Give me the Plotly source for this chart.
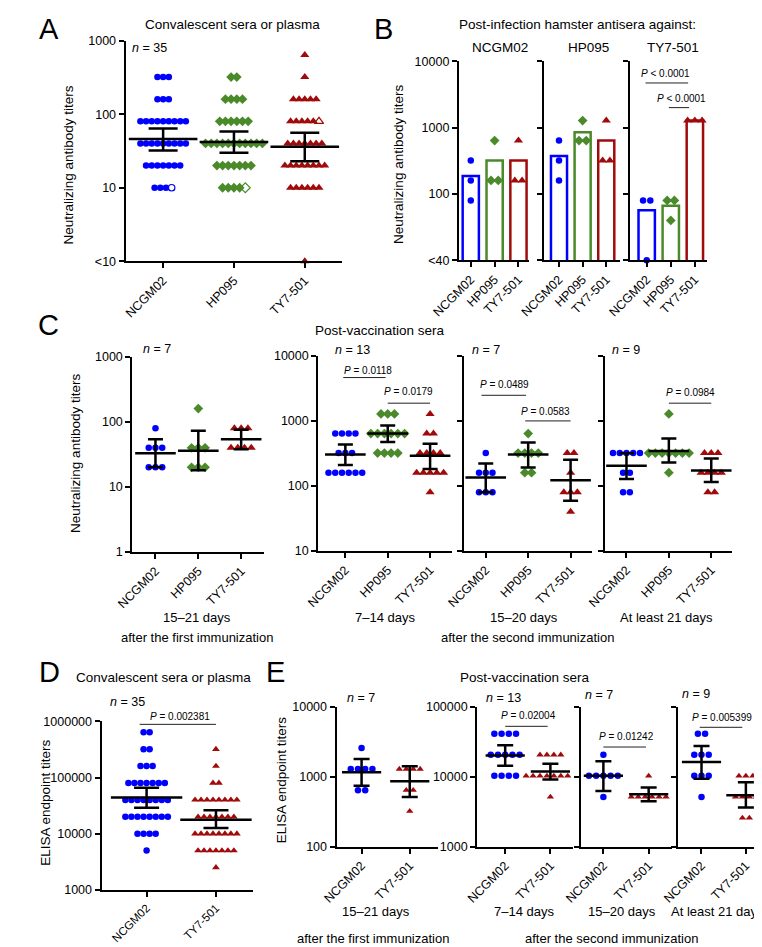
import numpy as np
import plotly.graph_objects as go

FONT = "Liberation Sans, Arial, Helvetica, sans-serif"
W, H = 762, 947

BLUE = "#0000FF"
GREEN = "#4A8A2A"
RED = "#A00A0A"
COLORS = [BLUE, GREEN, RED]
SYMBOLS = ["circle", "diamond", "triangle-up"]
SIZES = [6.5, 7.5, 8]

TICK_SIZE = 12.5
TITLE_SIZE = 13.5
YTITLE_SIZE = 13.5
N_SIZE = 12.5
P_SIZE = 10
BOTTOM_SIZE = 13

cats3 = ["NCGM02", "HP095", "TY7-501"]
cats2 = ["NCGM02", "TY7-501"]

# ---------------- Panel A : convalescent sera, neutralizing titers ----------------
a_ncgm02 = [320, 320, 320, 160, 160, 160, 80, 80, 80, 80, 80, 80, 80, 80, 80,
            40, 40, 40, 40, 40, 40, 40, 40, 40, 20, 20, 20, 20, 20, 20, 20, 10, 10, 10]
a_hp095 = [320, 320, 160, 160, 160, 160, 80, 80, 80, 80, 80, 80,
           40, 40, 40, 40, 40, 40, 40, 40, 40, 40, 40, 20, 20, 20, 20, 20, 20, 20, 10, 10, 10, 10]
a_ty7 = [640, 320, 160, 160, 160, 160, 160, 80, 80, 80, 80, 80,
         40, 40, 40, 40, 40, 40, 40, 20, 20, 20, 20, 20, 20, 20, 20, 10, 10, 10, 10, 10, 10, 1]
a_open = [10, 10, 80]
a_gmt = [46, 42, 36]
a_lo = [32, 30, 23]
a_hi = [64, 58, 56]

# ---------------- Panel B : hamster antisera (columns = virus tested) ----------------
b_against_ncgm02 = [[320, 160, 80], [640, 160, 160], [640, 160, 160]]
b_against_hp095 = [[640, 320, 160], [1280, 640, 640], [1280, 320, 320]]
b_against_ty7 = [[80, 80, 10], [80, 80, 40], [1280, 1280, 1280]]
b_virus = ["NCGM02", "HP095", "TY7-501"]

# ---------------- Panel C : post-vaccination neutralizing titers ----------------
c1_ncgm02 = [80, 40, 40, 40, 20, 20, 20]
c1_hp095 = [160, 40, 40, 40, 20, 20, 20]
c1_ty7 = [80, 80, 80, 40, 40, 40, 40]
c1_gmt, c1_lo, c1_hi = [33, 36, 54], [20, 18, 38], [54, 73, 76]

c2_ncgm02 = [640, 640, 640, 640, 320, 320, 320, 160, 160, 160, 160, 160, 160]
c2_hp095 = [1280, 1280, 1280, 640, 640, 640, 640, 640, 640, 320, 320, 320, 320]
c2_ty7 = [1280, 640, 640, 320, 320, 320, 320, 160, 160, 160, 160, 160, 80]
c2_gmt, c2_lo, c2_hi = [305, 640, 290], [209, 474, 182], [432, 850, 447]

c3_ncgm02 = [320, 160, 160, 160, 80, 80, 80]
c3_hp095 = [640, 320, 320, 320, 320, 160, 160]
c3_ty7 = [320, 320, 160, 80, 80, 80, 40]
c3_gmt, c3_lo, c3_hi = [135, 303, 122], [80, 192, 59], [222, 465, 252]

c4_ncgm02 = [320, 320, 320, 320, 320, 160, 160, 80, 80]
c4_hp095 = [1280, 320, 320, 320, 320, 320, 320, 320, 160]
c4_ty7 = [320, 320, 320, 160, 160, 160, 160, 80, 80]
c4_gmt, c4_lo, c4_hi = [204, 343, 173], [128, 229, 115], [318, 537, 264]

# ---------------- Panel D : ELISA convalescent ----------------
d_ncgm02 = [640000, 640000, 320000, 320000, 160000, 160000, 160000,
            80000, 80000, 80000, 80000, 80000, 80000, 80000,
            40000, 40000, 40000, 40000, 40000, 40000, 40000, 40000,
            20000, 20000, 20000, 20000, 20000, 20000, 20000, 20000,
            10000, 10000, 10000, 10000, 5000]
d_ty7 = [320000, 160000, 80000, 80000,
         40000, 40000, 40000, 40000, 40000, 40000, 40000, 40000,
         20000, 20000, 20000, 20000, 20000, 20000, 20000,
         10000, 10000, 10000, 10000, 10000, 10000, 10000, 10000,
         5000, 5000, 5000, 5000, 5000, 5000, 5000, 2500]
d_gmt, d_lo, d_hi = [44000, 17800], [29000, 12700], [66000, 26300]

# ---------------- Panel E : ELISA post-vaccination ----------------
e1_ncgm02 = [2560, 1280, 1280, 1280, 1280, 640, 640]
e1_ty7 = [1280, 1280, 1280, 1280, 640, 640, 320]
e1_gmt, e1_lo, e1_hi = [1150, 860], [740, 512], [1780, 1410]

e2_ncgm02 = [40960, 40960, 40960, 40960, 20480, 20480, 20480, 20480, 20480,
             10240, 10240, 10240, 10240]
e2_ty7 = [20480, 20480, 20480, 20480, 10240, 10240, 10240, 10240, 10240, 10240,
          10240, 10240, 5120]
e2_gmt, e2_lo, e2_hi = [20000, 11800], [14300, 9100], [28000, 15200]

e3_ncgm02 = [20480, 10240, 10240, 10240, 10240, 10240, 5120]
e3_ty7 = [10240, 5120, 5120, 5120, 5120, 5120, 5120]
e3_gmt, e3_lo, e3_hi = [10240, 5570], [6200, 4450], [16600, 7000]

e4_ncgm02 = [40960, 40960, 20480, 20480, 20480, 10240, 10240, 10240, 5120]
e4_ty7 = [10240, 10240, 10240, 5120, 5120, 5120, 5120, 2560, 2560]
e4_gmt, e4_lo, e4_hi = [16100, 5400], [9300, 3600], [27400, 8300]

# ---------------- helpers ----------------
def fx(p):
    return p / W


def fy(p):
    return 1 - p / H


fig = go.Figure()
layout_axes = {}
SUB = {}


def make_axes(i, xpx, ypx, xr, yr, tv, tt, cats, xtick_size=TICK_SIZE):
    SUB[i] = dict(ppu=(xpx[1] - xpx[0]) / (xr[1] - xr[0]))
    axcommon = dict(showline=True, linecolor="black", linewidth=2, ticks="outside",
                    ticklen=5, tickwidth=2, tickcolor="black", showgrid=False,
                    zeroline=False, fixedrange=True)
    layout_axes[f"xaxis{i}"] = dict(domain=[fx(xpx[0]), fx(xpx[1])], range=list(xr),
                                    anchor=f"y{i}", tickvals=list(range(len(cats))),
                                    ticktext=cats, tickangle=-45,
                                    tickfont=dict(size=xtick_size, family=FONT, color="black"),
                                    **axcommon)
    layout_axes[f"yaxis{i}"] = dict(domain=[fy(ypx[1]), fy(ypx[0])], type="log",
                                    range=list(yr), anchor=f"x{i}", tickvals=tv,
                                    ticktext=tt if tt else [str(v) for v in tv],
                                    showticklabels=tt is not None,
                                    tickfont=dict(size=TICK_SIZE, family=FONT, color="black"),
                                    **axcommon)


def swarm(values, spacing_units, open_value=None):
    rows = {}
    order = []
    items = [(v, False) for v in values]
    if open_value is not None:
        items.append((open_value, True))
    for v, o in items:
        if v not in rows:
            rows[v] = []
            order.append(v)
        rows[v].append(o)
    out = []
    for v in order:
        flags = sorted(rows[v])  # open point last
        k = len(flags)
        for j, o in enumerate(flags):
            out.append(((j - (k - 1) / 2) * spacing_units, v, o))
    return out


def add_points(i, gi, ci, values, spacing_px, open_value=None, size_scale=1.0):
    sp = spacing_px / SUB[i]["ppu"]
    pts = swarm(values, sp, open_value)
    for is_open in (False, True):
        sel = [p for p in pts if p[2] == is_open]
        if not sel:
            continue
        sym = SYMBOLS[ci] + ("-open" if is_open else "")
        fig.add_trace(go.Scatter(
            x=[gi + p[0] for p in sel], y=[p[1] for p in sel], mode="markers",
            marker=dict(symbol=sym, size=SIZES[ci] * size_scale, color=COLORS[ci],
                        line=dict(width=1.2 if is_open else 0, color=COLORS[ci])),
            xaxis=f"x{i}", yaxis=f"y{i}", cliponaxis=False, hoverinfo="skip"))


def add_summary(i, gmt, lo, hi, mean_w, cap_half):
    fig.add_trace(go.Scatter(
        x=list(range(len(gmt))), y=gmt, mode="markers",
        marker=dict(symbol="line-ew", size=mean_w, color="black",
                    line=dict(color="black", width=2.5)),
        error_y=dict(type="data", symmetric=False,
                     array=[h - g for g, h in zip(gmt, hi)],
                     arrayminus=[g - l for g, l in zip(gmt, lo)],
                     color="black", thickness=2.5, width=cap_half),
        xaxis=f"x{i}", yaxis=f"y{i}", cliponaxis=False, hoverinfo="skip"))


annotations = []
shapes = []


def ann(text, x, y, size=TITLE_SIZE, angle=0, xanchor="center"):
    annotations.append(dict(text=text, x=fx(x), y=fy(y), xref="paper", yref="paper",
                            showarrow=False, textangle=angle, xanchor=xanchor,
                            yanchor="middle", font=dict(size=size, family=FONT, color="black")))


def sig(i, x0, x1, ypx, text, tx, ty):
    shapes.append(dict(type="line", xref=f"x{i}", yref="paper", x0=x0, x1=x1,
                       y0=fy(ypx), y1=fy(ypx), line=dict(color="#222222", width=1)))
    ann(text, tx, ty, size=P_SIZE)


# ---------------- axes ----------------
neut_tv = [10, 100, 1000, 10000]
make_axes(1, (93, 318), (26, 250), (-0.53, 2.53), (0, 3), [1, 10, 100, 1000],
          ["<10", "10", "100", "1000"], cats3)
make_axes(2, (439, 512), (47, 249), (-0.5, 2.45), (1, 4), neut_tv,
          ["<40", "100", "1000", "10000"], cats3)
make_axes(3, (527, 606), (47, 249), (-0.65, 2.57), (1, 4), neut_tv, None, cats3)
make_axes(4, (617, 697), (47, 249), (-0.68, 2.52), (1, 4), neut_tv, None, cats3)
make_axes(5, (100, 237), (347, 545), (-0.54, 2.54), (0, 3), [1, 10, 100, 1000],
          ["1", "10", "100", "1000"], cats3)
make_axes(6, (293, 432), (346, 544), (-0.64, 2.52), (1, 4), neut_tv,
          ["10", "100", "1000", "10000"], cats3)
make_axes(7, (444, 577), (346, 544), (-0.52, 2.5), (1, 4), neut_tv, None, cats3)
make_axes(8, (591, 723), (346, 544), (-0.5, 2.5), (1, 4), neut_tv, None, cats3)
make_axes(9, (68, 225), (717, 888), (-0.65, 1.53), (3, 6), [1000, 10000, 100000, 1000000],
          ["1000", "10000", "100000", "1000000"], cats2, xtick_size=11.5)
make_axes(10, (312, 417), (702, 844), (-0.52, 1.58), (2, 4), [100, 1000, 10000],
          ["100", "1000", "10000"], cats2)
make_axes(11, (458, 557), (702, 844), (-0.62, 1.49), (3, 5), [1000, 10000, 100000],
          ["1000", "10000", "100000"], cats2)
make_axes(12, (566, 660), (702, 844), (-0.49, 1.51), (3, 5), [1000, 10000, 100000], None, cats2)
make_axes(13, (666, 760), (702, 844), (-0.54, 1.5), (3, 5), [1000, 10000, 100000], None, cats2)

# ---------------- Panel A ----------------
for gi, vals in enumerate([a_ncgm02, a_hp095, a_ty7]):
    add_points(1, gi, gi, vals, 5.9, open_value=a_open[gi])
add_summary(1, a_gmt, a_lo, a_hi, 49, 14.5)

# ---------------- Panel B ----------------
for i, data in zip([2, 3, 4], [b_against_ncgm02, b_against_hp095, b_against_ty7]):
    means = [float(np.mean(v)) for v in data]
    fig.add_trace(go.Bar(x=[0, 1, 2], y=means, width=0.68,
                         marker=dict(color="white", line=dict(color=COLORS, width=2.5)),
                         xaxis=f"x{i}", yaxis=f"y{i}", hoverinfo="skip"))
    for gi, vals in enumerate(data):
        add_points(i, gi, gi, vals, 7.5)

# ---------------- Panel C ----------------
c_sets = [
    (5, [c1_ncgm02, c1_hp095, c1_ty7], c1_gmt, c1_lo, c1_hi),
    (6, [c2_ncgm02, c2_hp095, c2_ty7], c2_gmt, c2_lo, c2_hi),
    (7, [c3_ncgm02, c3_hp095, c3_ty7], c3_gmt, c3_lo, c3_hi),
    (8, [c4_ncgm02, c4_hp095, c4_ty7], c4_gmt, c4_lo, c4_hi),
]
for i, groups, g, lo, hi in c_sets:
    for gi, vals in enumerate(groups):
        add_points(i, gi, gi, vals, 7)
    add_summary(i, g, lo, hi, 29, 7.5)

# ---------------- Panel D ----------------
add_points(9, 0, 0, d_ncgm02, 6.3)
add_points(9, 1, 2, d_ty7, 6.2, size_scale=0.85)
add_summary(9, d_gmt, d_lo, d_hi, 51, 12.5)

# ---------------- Panel E ----------------
e_sets = [
    (10, e1_ncgm02, e1_ty7, e1_gmt, e1_lo, e1_hi),
    (11, e2_ncgm02, e2_ty7, e2_gmt, e2_lo, e2_hi),
    (12, e3_ncgm02, e3_ty7, e3_gmt, e3_lo, e3_hi),
    (13, e4_ncgm02, e4_ty7, e4_gmt, e4_lo, e4_hi),
]
for i, n_vals, t_vals, g, lo, hi in e_sets:
    add_points(i, 0, 0, n_vals, 7.5)
    add_points(i, 1, 2, t_vals, 7.2, size_scale=0.8)
    add_summary(i, g, lo, hi, 28, 8)

# ---------------- text ----------------
# panel letters
for letter, x, y in [("A", 13, 14), ("B", 361, 14), ("C", 13, 315), ("D", 14, 667), ("E", 249, 667)]:
    ann(letter, x, y, size=29)

# Panel A
ann("Convalescent sera or plasma", 204, 10)
ann("<i>n</i> = 35", 118, 33, size=N_SIZE)
ann("Neutralizing antibody titers", 34, 152, size=YTITLE_SIZE, angle=-90)

# Panel B
ann("Post-infection hamster antisera against:", 562, 10)
for name, x in zip(b_virus, [482, 574, 661]):
    ann(name, x, 33)
ann("Neutralizing antibody titers", 377, 152, size=YTITLE_SIZE, angle=-90)
sig(4, -0.05, 1.72, 69, "<i>P</i> < 0.0001", 654, 59)
sig(4, 0.92, 1.76, 94, "<i>P</i> < 0.0001", 670, 85)

# Panel C
ann("Post-vaccination sera", 357, 320)
ann("Neutralizing antibody titers", 41, 445, size=YTITLE_SIZE, angle=-90)
ann("<i>n</i> = 7", 126, 339, size=N_SIZE)
ann("<i>n</i> = 13", 329, 340, size=N_SIZE)
ann("<i>n</i> = 7", 467, 340, size=N_SIZE)
ann("<i>n</i> = 9", 612, 340, size=N_SIZE)
sig(6, -0.05, 0.95, 368, "<i>P</i> = 0.0118", 345, 361)
sig(6, 1.0, 2.0, 394, "<i>P</i> = 0.0179", 387, 382)
sig(7, -0.1, 0.95, 386, "<i>P</i> = 0.0489", 486, 375)
sig(7, 0.93, 2.0, 412, "<i>P</i> = 0.0583", 529, 402)
sig(8, 1.0, 2.0, 394, "<i>P</i> = 0.0984", 679, 383)
ann("15–21 days", 167, 612, size=BOTTOM_SIZE)
ann("7–14 days", 362, 612, size=BOTTOM_SIZE)
ann("15–20 days", 507, 612, size=BOTTOM_SIZE)
ann("At least 21 days", 655, 612, size=BOTTOM_SIZE)
ann("after the first immunization", 167, 632, size=BOTTOM_SIZE)
ann("after the second immunization", 510, 632, size=BOTTOM_SIZE)

# Panel D
ann("Convalescent sera or plasma", 132, 672)
ann("<i>n</i> = 35", 95, 697, size=N_SIZE)
ann("ELISA endpoint titers", 10, 800, size=YTITLE_SIZE, angle=-90)
sig(9, -0.1, 1.0, 720, "<i>P</i> = 0.002381", 150, 712)

# Panel E
ann("Post-vaccination sera", 508, 672)
ann("ELISA endpoint titers", 255, 777, size=YTITLE_SIZE, angle=-90)
ann("<i>n</i> = 7", 337, 693, size=N_SIZE)
ann("<i>n</i> = 13", 485, 693, size=N_SIZE)
ann("<i>n</i> = 7", 584, 690, size=N_SIZE)
ann("<i>n</i> = 9", 685, 689, size=N_SIZE)
sig(11, 0.0, 0.94, 722, "<i>P</i> = 0.02004", 511, 711)
sig(12, 0.0, 0.94, 743, "<i>P</i> = 0.01242", 613, 732)
sig(13, -0.04, 0.92, 723, "<i>P</i> = 0.005399", 712, 713)
ann("15–21 days", 353, 910, size=BOTTOM_SIZE)
ann("7–14 days", 507, 910, size=BOTTOM_SIZE)
ann("15–20 days", 608, 910, size=BOTTOM_SIZE)
ann("At least 21 days", 707, 910, size=BOTTOM_SIZE)
ann("after the first immunization", 350, 937, size=BOTTOM_SIZE)
ann("after the second immunization", 597, 937, size=BOTTOM_SIZE)

fig.update_layout(
    width=W, height=H, margin=dict(l=0, r=0, t=0, b=0),
    paper_bgcolor="white", plot_bgcolor="white", showlegend=False,
    font=dict(family=FONT, size=12, color="black"),
    annotations=annotations, shapes=shapes, barmode="overlay",
    **layout_axes)

fig.write_html("out.html")
